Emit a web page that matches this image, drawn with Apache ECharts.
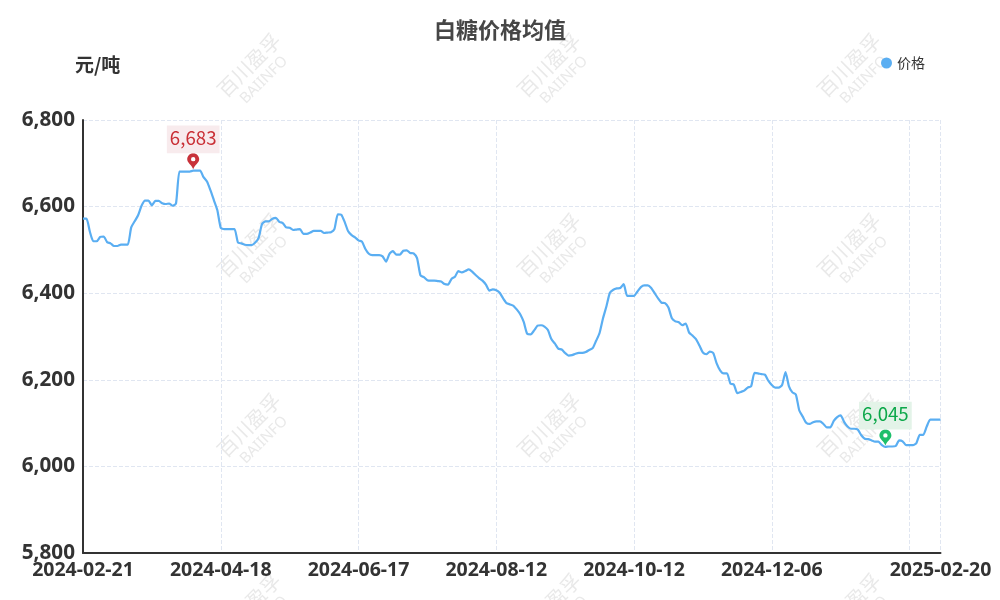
<!DOCTYPE html>
<html><head><meta charset="utf-8">
<style>html,body{margin:0;padding:0;background:#fff}#c{width:1000px;height:600px}</style>
<script src="https://cdn.jsdelivr.net/npm/echarts@6/dist/echarts.min.js"></script></head>
<body><div id="c"></div>
<script>
const titleText = '白糖价格均值';
const unitText = '元/吨';
const seriesName = '价格';
const watermarkMain = '百川盈孚';
const watermarkSub = 'BAIINFO';
const dates = [
'2024-02-21','2024-02-22','2024-02-23','2024-02-26','2024-02-27','2024-02-28','2024-02-29',
'2024-03-01','2024-03-04','2024-03-05','2024-03-06','2024-03-07','2024-03-08','2024-03-11','2024-03-12','2024-03-13','2024-03-14','2024-03-15','2024-03-18','2024-03-19','2024-03-20','2024-03-21','2024-03-22','2024-03-25','2024-03-26','2024-03-27','2024-03-28','2024-03-29',
'2024-04-01','2024-04-02','2024-04-03','2024-04-07','2024-04-08','2024-04-09','2024-04-10','2024-04-11','2024-04-12','2024-04-15','2024-04-16','2024-04-17','2024-04-18','2024-04-19','2024-04-22','2024-04-23','2024-04-24','2024-04-25','2024-04-26','2024-04-28','2024-04-29','2024-04-30',
'2024-05-06','2024-05-07','2024-05-08','2024-05-09','2024-05-10','2024-05-11','2024-05-13','2024-05-14','2024-05-15','2024-05-16','2024-05-17','2024-05-20','2024-05-21','2024-05-22','2024-05-23','2024-05-24','2024-05-27','2024-05-28','2024-05-29','2024-05-30','2024-05-31',
'2024-06-03','2024-06-04','2024-06-05','2024-06-06','2024-06-07','2024-06-11','2024-06-12','2024-06-13','2024-06-14','2024-06-17','2024-06-18','2024-06-19','2024-06-20','2024-06-21','2024-06-24','2024-06-25','2024-06-26','2024-06-27','2024-06-28',
'2024-07-01','2024-07-02','2024-07-03','2024-07-04','2024-07-05','2024-07-08','2024-07-09','2024-07-10','2024-07-11','2024-07-12','2024-07-15','2024-07-16','2024-07-17','2024-07-18','2024-07-19','2024-07-22','2024-07-23','2024-07-24','2024-07-25','2024-07-26','2024-07-29','2024-07-30','2024-07-31',
'2024-08-01','2024-08-02','2024-08-05','2024-08-06','2024-08-07','2024-08-08','2024-08-09','2024-08-12','2024-08-13','2024-08-14','2024-08-15','2024-08-16','2024-08-19','2024-08-20','2024-08-21','2024-08-22','2024-08-23','2024-08-26','2024-08-27','2024-08-28','2024-08-29','2024-08-30',
'2024-09-02','2024-09-03','2024-09-04','2024-09-05','2024-09-06','2024-09-09','2024-09-10','2024-09-11','2024-09-12','2024-09-13','2024-09-14','2024-09-18','2024-09-19','2024-09-20','2024-09-23','2024-09-24','2024-09-25','2024-09-26','2024-09-27','2024-09-29','2024-09-30',
'2024-10-08','2024-10-09','2024-10-10','2024-10-11','2024-10-12','2024-10-14','2024-10-15','2024-10-16','2024-10-17','2024-10-18','2024-10-21','2024-10-22','2024-10-23','2024-10-24','2024-10-25','2024-10-28','2024-10-29','2024-10-30','2024-10-31',
'2024-11-01','2024-11-04','2024-11-05','2024-11-06','2024-11-07','2024-11-08','2024-11-11','2024-11-12','2024-11-13','2024-11-14','2024-11-15','2024-11-18','2024-11-19','2024-11-20','2024-11-21','2024-11-22','2024-11-25','2024-11-26','2024-11-27','2024-11-28','2024-11-29',
'2024-12-02','2024-12-03','2024-12-04','2024-12-05','2024-12-06','2024-12-09','2024-12-10','2024-12-11','2024-12-12','2024-12-13','2024-12-16','2024-12-17','2024-12-18','2024-12-19','2024-12-20','2024-12-23','2024-12-24','2024-12-25','2024-12-26','2024-12-27','2024-12-30','2024-12-31',
'2025-01-02','2025-01-03','2025-01-06','2025-01-07','2025-01-08','2025-01-09','2025-01-10','2025-01-13','2025-01-14','2025-01-15','2025-01-16','2025-01-17','2025-01-20','2025-01-21','2025-01-22','2025-01-23','2025-01-24','2025-01-26','2025-01-27',
'2025-02-05','2025-02-06','2025-02-07','2025-02-08','2025-02-10','2025-02-11','2025-02-12','2025-02-13','2025-02-14','2025-02-17','2025-02-18','2025-02-19','2025-02-20'
];
const prices = [
6572,6572,6542,6520,6520,6530,6531,6518,6515,6509,
6509,6512,6512,6512,6552,6566,6580,6602,6614,6614,
6603,6613,6613,6608,6606,6607,6602,6607,6681,6681,
6681,6681,6683,6683,6683,6668,6658,6638,6615,6592,
6551,6548,6548,6548,6548,6517,6515,6512,6511,6511,
6517,6528,6560,6566,6566,6572,6574,6565,6562,6552,
6551,6546,6547,6548,6537,6537,6540,6544,6544,6544,
6539,6540,6541,6548,6582,6581,6564,6543,6534,6529,
6522,6519,6502,6491,6488,6488,6488,6485,6473,6491,
6497,6489,6489,6498,6499,6493,6492,6481,6441,6437,
6430,6429,6429,6428,6427,6421,6420,6433,6438,6451,
6448,6451,6455,6450,6442,6435,6429,6420,6406,6409,
6407,6401,6388,6377,6374,6371,6362,6351,6333,6306,
6305,6314,6325,6326,6323,6315,6294,6284,6272,6270,
6262,6256,6257,6260,6262,6262,6264,6269,6273,6290,
6308,6342,6370,6401,6408,6411,6412,6421,6394,6394,
6394,6404,6414,6418,6418,6412,6400,6388,6378,6377,
6367,6342,6335,6333,6326,6330,6309,6302,6294,6279,
6263,6259,6265,6262,6238,6222,6215,6215,6191,6189,
6169,6172,6175,6182,6185,6216,6215,6213,6212,6198,
6188,6182,6182,6188,6218,6185,6171,6166,6129,6115,
6101,6098,6102,6104,6104,6098,6090,6090,6105,6114,
6118,6103,6092,6087,6087,6085,6072,6064,6063,6060,
6057,6057,6049,6045,6046,6046,6047,6060,6058,6049,
6049,6049,6054,6073,6073,6092,6108,6108,6108,6108
];
const fmt = v => Number(v).toLocaleString('en-US');
const pinPath = 'path://M6 0C2.7 0 0 2.7 0 6C0 9.5 4.5 11.5 6 16C7.5 11.5 12 9.5 12 6C12 2.7 9.3 0 6 0ZM6 3.8A2.2 2.2 0 0 1 6 8.2A2.2 2.2 0 0 1 6 3.8Z';
const wmElements = [];
[195, 495, 795].forEach(x0 => [-78, 102, 282, 462, 642].forEach(y0 => {
  wmElements.push({type:'text', x:x0+54, y:y0-37, rotation:Math.PI/4, originX:0, originY:0, silent:true, z:-5,
    style:{text:watermarkMain, font:'20px "Noto Sans CJK SC"', fill:'#e9e9e9', align:'center', verticalAlign:'middle'}});
  wmElements.push({type:'text', x:x0+54+15, y:y0-37+15, rotation:Math.PI/4, originX:0, originY:0, silent:true, z:-5,
    style:{text:watermarkSub, font:'15px "Noto Sans"', fill:'#e9e9e9', align:'center', verticalAlign:'middle'}});
}));
const chart = echarts.init(document.getElementById('c'), null, {renderer:'canvas'});
const showTick = i => i % 40 === 0 || i === dates.length - 1;
const pinLabel = (color, bg) => ({position:'top', distance:0, formatter:p=>fmt(p.value), fontSize:18.7, color:color, backgroundColor:bg, padding:[3,3,6,3], fontFamily:'"Noto Sans CJK SC"'});
chart.setOption({
  animation:false,
  backgroundColor:'#fff',
  textStyle:{fontFamily:'"Noto Sans CJK SC"'},
  title:{text:titleText, left:'center', top:14, textStyle:{fontSize:22, fontWeight:'bold', color:'#464646', fontFamily:'"Noto Sans CJK SC"'}},
  legend:{data:[seriesName], right:70, top:51, icon:'circle', itemWidth:11, itemHeight:11, itemGap:6, textStyle:{fontSize:14, color:'#333', fontFamily:'"Noto Sans CJK SC"'}},
  grid:{left:83, right:59.5, top:120, bottom:47},
  graphic:{elements:wmElements},
  xAxis:{type:'category', data:dates, boundaryGap:false,
    axisLine:{lineStyle:{color:'#333', width:2}},
    axisTick:{show:false},
    axisLabel:{interval:(i)=> (showTick(i) && i !== 240), margin:7, fontSize:19.5, fontWeight:'bold', color:'#333', fontFamily:'"Noto Sans"', hideOverlap:false},
    splitLine:{show:true, interval:(i)=>showTick(i), lineStyle:{type:'dashed', color:'#e0e6f1'}}},
  yAxis:{type:'value', min:5800, max:6800, interval:200,
    name:unitText, nameLocation:'end', nameGap:46, nameTextStyle:{align:'left', padding:[0,0,0,-8], fontSize:19, fontWeight:'bold', color:'#333'},
    axisLine:{show:true, lineStyle:{color:'#333', width:2}},
    axisTick:{show:false},
    axisLabel:{margin:8, fontSize:20.7, fontWeight:'bold', color:'#333', fontFamily:'"Noto Sans"', formatter:v=>fmt(v)},
    splitLine:{show:true, lineStyle:{type:'dashed', color:'#e0e6f1'}}},
  series:[{name:seriesName, type:'line', data:prices, smooth:0.2, showSymbol:false, symbol:'none',
    lineStyle:{width:2.2, color:'#5aaef2'}, itemStyle:{color:'#5aaef2'},
    markPoint:{symbol:pinPath, symbolSize:[12,16], symbolOffset:[0,-9.5], animation:false, data:[
      {type:'max', itemStyle:{color:'#c8323a'}, label:pinLabel('#c92f35','#f8ebed')},
      {type:'min', itemStyle:{color:'#1dbf6b'}, label:pinLabel('#0ca84a','#e3f3e8')}
    ]}
  }]
});
</script></body></html>
